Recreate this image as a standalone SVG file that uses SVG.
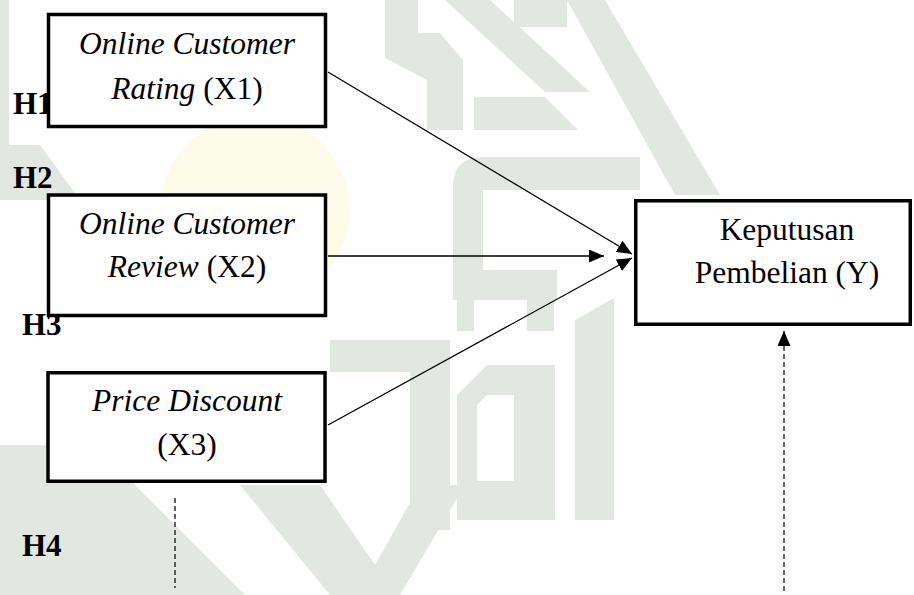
<svg xmlns="http://www.w3.org/2000/svg" width="914" height="595" viewBox="0 0 914 595">
<style>
.wm{fill:#e3e7e2}
.wy{fill:#fdfbea}
.box{fill:#fff;stroke:#000;stroke-width:3.5}
.t{font-family:"Liberation Serif","Times New Roman",serif;font-size:31.5px;fill:#000;text-anchor:middle}
.i{font-style:italic}
.h{font-family:"Liberation Serif","Times New Roman",serif;font-size:31px;font-weight:bold;fill:#000}
.ln{stroke:#000;stroke-width:1.3;fill:none}
.dash{stroke:#222;stroke-width:1.4;fill:none;stroke-dasharray:5 3}
</style>
<defs>
<marker id="ah" markerUnits="userSpaceOnUse" markerWidth="16" markerHeight="13" refX="15" refY="6.5" orient="auto">
<path d="M0,0 L15,6.5 L0,13 z" fill="#000"/>
</marker>
</defs>
<rect width="914" height="595" fill="#fff"/>
<g id="watermark">
<rect class="wm" x="0" y="0" width="9" height="175"/>
<polygon class="wm" points="0,145 40,145 80,200 0,200"/>
<polygon class="wm" points="385,0 418,0 418,33 440,33 463,60 463,130 427,130 427,80 385,58"/>
<rect class="wm" x="514" y="0" width="53" height="27"/>
<polygon class="wm" points="445,0 490,0 590,92 545,92"/>
<polygon class="wm" points="567,0 605,0 720,195 675,195"/>
<polygon class="wm" points="474,97 545,97 578,130 474,130"/>
<path class="wm" d="M483,157 L640,157 L640,190 L483,190 L483,270 L557,270 L557,300 L453,300 L453,187 Q453,157 483,157 Z"/>
<circle class="wy" cx="255" cy="210" r="95"/>
<path class="wm" d="M457,395 L487,365 L555,365 L555,520 L457,520 Z M477,405 L477,481 L514,481 L514,395 L487,395 Z" fill-rule="evenodd"/>
<polygon class="wm" points="575,320 614,298 614,520 575,520"/>
<rect class="wm" x="457" y="300" width="17" height="31"/>
<rect class="wm" x="527" y="300" width="27" height="31"/>
<path class="wm" d="M330,340 L450,340 L450,530 L410,530 L410,372 L330,372 Z"/>
<polygon class="wm" points="0,445 95,445 245,595 0,595"/>
<polygon class="wm" points="240,485 320,485 375,565 420,485 465,485 400,595 330,595"/>
</g>
<text class="h" x="13" y="114">H1</text>
<text class="h" x="13" y="188">H2</text>
<text class="h" x="22" y="335">H3</text>
<text class="h" x="22" y="556">H4</text>
<g id="x1">
<rect class="box" x="48.5" y="14.5" width="277" height="112"/>
<text class="t" x="187" y="54"><tspan class="i">Online Customer</tspan></text>
<text class="t" x="187" y="99"><tspan class="i">Rating</tspan> (X1)</text>
</g>
<g id="x2">
<rect class="box" x="48.5" y="195" width="277" height="120.5"/>
<text class="t" x="187" y="234"><tspan class="i">Online Customer</tspan></text>
<text class="t" x="187" y="277"><tspan class="i">Review</tspan> (X2)</text>
</g>
<g id="x3">
<rect class="box" x="48" y="372.75" width="277" height="108.5"/>
<text class="t" x="187" y="411"><tspan class="i">Price Discount</tspan></text>
<text class="t" x="187" y="455">(X3)</text>
</g>
<g id="y">
<rect class="box" x="635.75" y="200.75" width="274.5" height="123.5"/>
<text class="t" x="787" y="240">Keputusan</text>
<text class="t" x="787" y="283">Pembelian (Y)</text>
</g>
<g id="connectors">
<line class="ln" x1="328" y1="72" x2="632" y2="254" marker-end="url(#ah)"/>
<line class="ln" x1="328" y1="256" x2="604" y2="256" marker-end="url(#ah)"/>
<line class="ln" x1="328" y1="425" x2="632" y2="258" marker-end="url(#ah)"/>
<line class="dash" x1="175" y1="498" x2="175" y2="588"/>
<line class="dash" x1="784" y1="591" x2="784" y2="331" marker-end="url(#ah)"/>
</g>
</svg>
